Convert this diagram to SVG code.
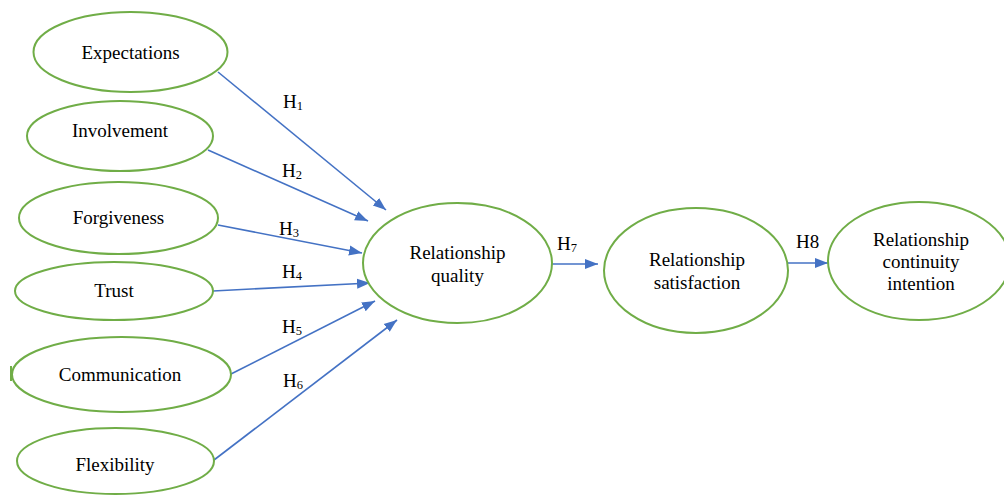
<svg xmlns="http://www.w3.org/2000/svg" width="1004" height="495" viewBox="0 0 1004 495">
<style>
.node ellipse{fill:#fff;stroke:#70AD47;stroke-width:2}
text{font-family:"Liberation Serif","Times New Roman",serif;font-size:19px;fill:#000}
.c{text-anchor:middle}
.conn line{stroke:#4472C4;stroke-width:1.6;fill:none}
.sub{font-size:12.5px}
</style>
<defs>
<marker id="ah" markerUnits="userSpaceOnUse" markerWidth="14" markerHeight="12" refX="13" refY="6" orient="auto">
<path d="M0,1 L13,6 L0,11 Z" fill="#4472C4"/>
</marker>
</defs>
<rect width="1004" height="495" fill="#fff"/>
<g id="connectors" class="conn">
<line x1="218" y1="72" x2="386" y2="210" marker-end="url(#ah)"/>
<line x1="208" y1="150" x2="368" y2="221" marker-end="url(#ah)"/>
<line x1="218" y1="225" x2="362" y2="253" marker-end="url(#ah)"/>
<line x1="213" y1="291" x2="370" y2="283" marker-end="url(#ah)"/>
<line x1="231" y1="374" x2="375" y2="301" marker-end="url(#ah)"/>
<line x1="214" y1="460" x2="397" y2="320" marker-end="url(#ah)"/>
<line x1="552" y1="264" x2="598" y2="264" marker-end="url(#ah)"/>
<line x1="783" y1="263" x2="828" y2="263" marker-end="url(#ah)"/>
</g>
<g id="labels">
<text x="283" y="108">H<tspan class="sub" dy="2">1</tspan></text>
<text x="282" y="177">H<tspan class="sub" dy="2">2</tspan></text>
<text x="279" y="235">H<tspan class="sub" dy="2">3</tspan></text>
<text x="282" y="278">H<tspan class="sub" dy="2">4</tspan></text>
<text x="282" y="333">H<tspan class="sub" dy="2">5</tspan></text>
<text x="283" y="387">H<tspan class="sub" dy="2">6</tspan></text>
<text x="557" y="250">H<tspan class="sub" dy="2">7</tspan></text>
<text x="796" y="248">H8</text>
</g>
<path d="M11,366 L11,381" stroke="#70AD47" stroke-width="2"/>
<g id="expectations" class="node">
<ellipse cx="130.5" cy="52" rx="97" ry="40"/>
<text class="c" x="130.5" y="59">Expectations</text>
</g>
<g id="involvement" class="node">
<ellipse cx="120" cy="136" rx="93" ry="35"/>
<text class="c" x="120" y="137">Involvement</text>
</g>
<g id="forgiveness" class="node">
<ellipse cx="118.5" cy="218" rx="99.5" ry="36"/>
<text class="c" x="118.5" y="224">Forgiveness</text>
</g>
<g id="trust" class="node">
<ellipse cx="114" cy="291" rx="99" ry="29"/>
<text class="c" x="114" y="297">Trust</text>
</g>
<g id="communication" class="node">
<ellipse cx="121.5" cy="374.5" rx="109.5" ry="37.5"/>
<text class="c" x="120" y="381">Communication</text>
</g>
<g id="flexibility" class="node">
<ellipse cx="115.5" cy="461" rx="98.5" ry="33"/>
<text class="c" x="115" y="471">Flexibility</text>
</g>
<g id="relationship-quality" class="node">
<ellipse cx="457.5" cy="263" rx="94.5" ry="60"/>
<text class="c" x="457.5" y="259">Relationship</text>
<text class="c" x="457.5" y="282">quality</text>
</g>
<g id="relationship-satisfaction" class="node">
<ellipse cx="696" cy="270.5" rx="92" ry="62.5"/>
<text class="c" x="697" y="266">Relationship</text>
<text class="c" x="697" y="289">satisfaction</text>
</g>
<g id="relationship-continuity-intention" class="node">
<ellipse cx="919" cy="261" rx="91" ry="59"/>
<text class="c" x="921" y="246">Relationship</text>
<text class="c" x="921" y="268">continuity</text>
<text class="c" x="921" y="290">intention</text>
</g>
</svg>
